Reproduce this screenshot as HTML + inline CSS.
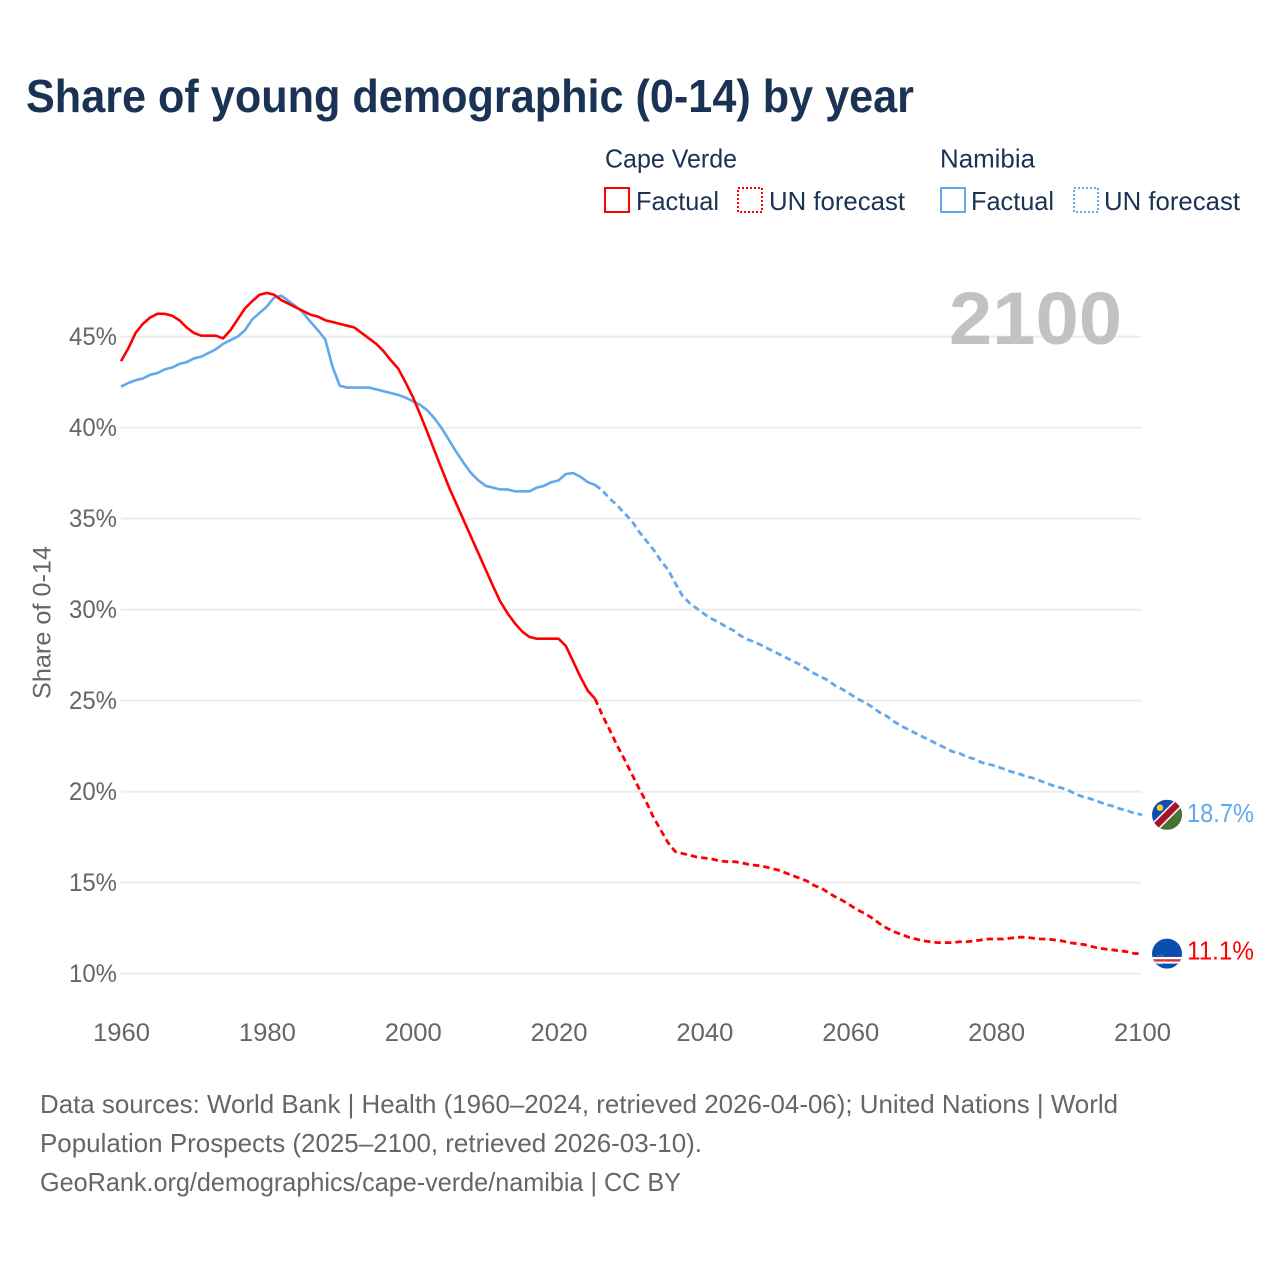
<!DOCTYPE html>
<html lang="en">
<head>
<meta charset="utf-8">
<title>Share of young demographic (0-14) by year</title>
<style>
html,body{margin:0;padding:0;background:#fff;}
svg{display:block;}
text{font-family:"Liberation Sans",sans-serif;}
</style>
</head>
<body>
<svg id="chart" xmlns="http://www.w3.org/2000/svg" width="1280" height="1280" viewBox="0 0 1280 1280">
  <defs>
    <clipPath id="clip-nam"><circle cx="0" cy="0" r="15"/></clipPath>
    <clipPath id="clip-cpv"><circle cx="0" cy="0" r="15"/></clipPath>
  </defs>
  <rect x="0" y="0" width="1280" height="1280" fill="#fff"/>
  <text x="26" y="112" font-size="46" font-weight="700" fill="#1a3354" textLength="888" lengthAdjust="spacingAndGlyphs">Share of young demographic (0-14) by year</text>

  <g font-size="26" fill="#1a3354">
    <text x="605" y="167.5" textLength="132" lengthAdjust="spacingAndGlyphs">Cape Verde</text>
    <text x="940" y="167.5" textLength="95" lengthAdjust="spacingAndGlyphs">Namibia</text>
    <rect x="605" y="188" width="24" height="24" fill="none" stroke="#ff0000" stroke-width="2"/>
    <text x="636" y="210" textLength="83" lengthAdjust="spacingAndGlyphs">Factual</text>
    <rect x="738" y="188" width="24" height="24" fill="none" stroke="#ff0000" stroke-width="2" stroke-dasharray="2 2"/>
    <text x="769" y="210" textLength="136" lengthAdjust="spacingAndGlyphs">UN forecast</text>
    <rect x="941" y="188" width="24" height="24" fill="none" stroke="#62a8ec" stroke-width="2"/>
    <text x="971" y="210" textLength="83" lengthAdjust="spacingAndGlyphs">Factual</text>
    <rect x="1074" y="188" width="24" height="24" fill="none" stroke="#62a8ec" stroke-width="2" stroke-dasharray="2 2"/>
    <text x="1104" y="210" textLength="136" lengthAdjust="spacingAndGlyphs">UN forecast</text>
  </g>

  <g id="grid"></g>
  <text x="949" y="344" font-size="74" font-weight="700" fill="#c2c2c2" textLength="173" lengthAdjust="spacingAndGlyphs">2100</text>
  <g id="y-ticks" font-size="25" fill="#666"></g>
  <g id="x-ticks" font-size="25" fill="#666"></g>
  <text transform="translate(50.5 699) rotate(-90)" font-size="25" fill="#666" textLength="153" lengthAdjust="spacingAndGlyphs">Share of 0-14</text>

  <g id="series" fill="none" stroke-linejoin="round"></g>

  <g id="flag-nam">
    <g clip-path="url(#clip-nam)">
      <rect x="-15" y="-15" width="30" height="30" fill="#0a4fb0"/>
      <polygon points="-15,15 15,-15 15,15" fill="#4c7233"/>
      <line x1="-17" y1="17" x2="17" y2="-17" stroke="#fff" stroke-width="9.5"/>
      <line x1="-17" y1="17" x2="17" y2="-17" stroke="#a6122f" stroke-width="6.5"/>
      <circle cx="-7" cy="-7" r="3.3" fill="#fcc92b"/>
    </g>
  </g>
  <g id="flag-cpv">
    <g clip-path="url(#clip-cpv)">
      <rect x="-15" y="-15" width="30" height="30" fill="#0a4fb0"/>
      <rect x="-15" y="3.4" width="30" height="6.6" fill="#fff"/>
      <rect x="-15" y="5.6" width="30" height="2.4" fill="#d8303c"/>
      <circle cx="-7" cy="6" r="4.5" fill="none" stroke="#f4cf4c" stroke-width="0.8" stroke-dasharray="1 1.6"/>
    </g>
  </g>
  <text id="label-nam" x="1187" font-size="25.5" fill="#62a8ec" textLength="67" lengthAdjust="spacingAndGlyphs"></text>
  <text id="label-cpv" x="1187" font-size="25.5" fill="#ff0000" textLength="67" lengthAdjust="spacingAndGlyphs"></text>

  <g font-size="26" fill="#666">
    <text x="40" y="1113" textLength="1078" lengthAdjust="spacingAndGlyphs">Data sources: World Bank | Health (1960–2024, retrieved 2026-04-06); United Nations | World</text>
    <text x="40" y="1152" textLength="662" lengthAdjust="spacingAndGlyphs">Population Prospects (2025–2100, retrieved 2026-03-10).</text>
    <text x="40" y="1191" textLength="641" lengthAdjust="spacingAndGlyphs">GeoRank.org/demographics/cape-verde/namibia | CC BY</text>
  </g>
</svg>
<script>
var xTickYears = [1960, 1980, 2000, 2020, 2040, 2060, 2080, 2100];
var yTickValues = [10, 15, 20, 25, 30, 35, 40, 45];
var factualStartYear = 1960;
var forecastStartYear = 2025;

var capeVerdeFactual = [
43.65,44.35,45.2,45.7,46.05,46.25,46.25,46.15,45.9,45.5,
45.2,45.05,45.05,45.05,44.9,45.35,45.95,46.55,46.95,47.3,
47.4,47.3,47.0,46.8,46.6,46.4,46.2,46.1,45.9,45.8,
45.7,45.6,45.5,45.2,44.9,44.6,44.2,43.7,43.25,42.5,
41.7,40.75,39.75,38.72,37.7,36.7,35.8,34.9,34.0,33.1,
32.2,31.3,30.45,29.8,29.25,28.8,28.5,28.4,28.4,28.4,
28.4,28.0,27.15,26.3,25.55,25.1
];
var capeVerdeForecast = [
25.1,24.2,23.4,22.55,21.8,21.0,20.2,19.45,18.6,17.9,
17.2,16.7,16.6,16.5,16.4,16.35,16.3,16.2,16.15,16.15,
16.1,16.0,15.95,15.9,15.8,15.7,15.55,15.4,15.25,15.1,
14.85,14.7,14.45,14.2,14.0,13.75,13.5,13.3,13.05,12.75,
12.5,12.3,12.15,12.0,11.9,11.8,11.75,11.7,11.7,11.7,
11.75,11.75,11.8,11.85,11.9,11.9,11.9,11.95,12.0,12.0,
11.95,11.9,11.9,11.85,11.8,11.7,11.65,11.6,11.5,11.4,
11.35,11.3,11.25,11.2,11.1,11.1
];
var namibiaFactual = [
42.25,42.45,42.6,42.7,42.9,43.0,43.2,43.3,43.5,43.6,
43.8,43.9,44.1,44.3,44.6,44.8,45.0,45.35,45.95,46.3,
46.65,47.15,47.25,46.95,46.65,46.3,45.8,45.35,44.85,43.35,
42.3,42.2,42.2,42.2,42.2,42.1,42.0,41.9,41.8,41.65,
41.45,41.25,40.95,40.5,39.95,39.3,38.65,38.05,37.5,37.1,
36.8,36.7,36.6,36.6,36.5,36.5,36.5,36.7,36.8,37.0,
37.1,37.45,37.5,37.3,37.0,36.85
];
var namibiaForecast = [
36.85,36.55,36.1,35.75,35.3,34.9,34.3,33.8,33.3,32.7,
32.2,31.45,30.75,30.35,30.05,29.75,29.5,29.3,29.05,28.85,
28.55,28.35,28.2,28.0,27.8,27.6,27.4,27.2,27.0,26.75,
26.5,26.3,26.1,25.8,25.6,25.35,25.1,24.9,24.65,24.35,
24.15,23.85,23.6,23.4,23.2,23.0,22.8,22.6,22.4,22.2,
22.1,21.9,21.8,21.6,21.5,21.4,21.25,21.1,21.0,20.85,
20.75,20.6,20.45,20.3,20.2,20.05,19.85,19.7,19.6,19.45,
19.3,19.2,19.05,18.95,18.8,18.73
];
var endLabelNamibia = "18.7%";
var endLabelCapeVerde = "11.1%";

var SVGNS = "http://www.w3.org/2000/svg";
function xScale(year) { return 121 + (year - 1960) * (1021 / 140); }
function yScale(v) { return 973.6 - (v - 10) * 18.2; }
function make(tag, attrs, parent) {
  var el = document.createElementNS(SVGNS, tag);
  for (var k in attrs) { el.setAttribute(k, attrs[k]); }
  parent.appendChild(el);
  return el;
}
function pathFor(values, startYear) {
  return values.map(function (v, i) {
    return (i ? "L" : "M") + xScale(startYear + i).toFixed(2) + " " + yScale(v).toFixed(2);
  }).join(" ");
}

var grid = document.getElementById("grid");
var yTicks = document.getElementById("y-ticks");
var xTicks = document.getElementById("x-ticks");
var series = document.getElementById("series");

yTickValues.forEach(function (v) {
  var line = make("line", {x1: 121, x2: 1141.5, y1: yScale(v), y2: yScale(v), stroke: "#ececec", "stroke-width": 2}, grid);
  
  
  var label = make("text", {x: 117, y: yScale(v) + 8.5, "text-anchor": "end", textLength: 48, lengthAdjust: "spacingAndGlyphs"}, yTicks);
  
  
  label.textContent = v + "%";
});

xTickYears.forEach(function (year) {
  var label = make("text", {x: xScale(year) + 0.5, y: 1041, "text-anchor": "middle", textLength: 57, lengthAdjust: "spacingAndGlyphs"}, xTicks);
  
  
  label.textContent = year;
});

var lineNamF = make("path", {d: pathFor(namibiaFactual, factualStartYear), stroke: "#62a8ec", "stroke-width": 2.6}, series);


var lineNamP = make("path", {d: pathFor(namibiaForecast, forecastStartYear), stroke: "#62a8ec", "stroke-width": 2.8, "stroke-dasharray": "6.5 4"}, series);


var lineCpvF = make("path", {d: pathFor(capeVerdeFactual, factualStartYear), stroke: "#ff0000", "stroke-width": 2.6}, series);


var lineCpvP = make("path", {d: pathFor(capeVerdeForecast, forecastStartYear), stroke: "#ff0000", "stroke-width": 2.8, "stroke-dasharray": "6.5 4"}, series);



var yNam = yScale(namibiaForecast[namibiaForecast.length - 1]);
var yCpv = yScale(capeVerdeForecast[capeVerdeForecast.length - 1]);
document.getElementById("flag-nam").setAttribute("transform", "translate(1167 " + yNam.toFixed(2) + ")");
document.getElementById("flag-cpv").setAttribute("transform", "translate(1167 " + yCpv.toFixed(2) + ")");
var labelNam = document.getElementById("label-nam");
labelNam.setAttribute("y", (yNam + 7.5).toFixed(2));
labelNam.textContent = endLabelNamibia;
var labelCpv = document.getElementById("label-cpv");
labelCpv.setAttribute("y", (yCpv + 6).toFixed(2));
labelCpv.textContent = endLabelCapeVerde;
</script>
</body>
</html>
